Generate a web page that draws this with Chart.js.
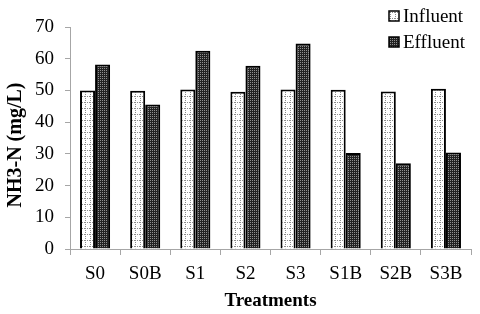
<!DOCTYPE html>
<html>
<head>
<meta charset="utf-8">
<script src="https://cdn.jsdelivr.net/npm/chart.js@4/dist/chart.umd.min.js"></script>
<style>
  html, body { margin: 0; padding: 0; background: #fff; }
  #wrap { width: 480px; height: 314px; }
</style>
</head>
<body>
<div id="wrap"><canvas id="nh3Chart" width="480" height="314"></canvas></div>
<script>
// values (mg/L)
const categories = ['S0', 'S0B', 'S1', 'S2', 'S3', 'S1B', 'S2B', 'S3B'];
const influent = [50.0, 49.9, 50.3, 49.6, 50.3, 50.2, 49.7, 50.5];
const effluent = [58.2, 45.6, 62.5, 57.8, 64.8, 30.3, 27.0, 30.4];
const seriesNames = ['Influent', 'Effluent'];
const yTitle = 'NH3-N (mg/L)';
const yMax = 70;
const yStep = 10;

const serif = "'Liberation Serif', 'Times New Roman', serif";

// small dotted textures like the original bars
function makePattern(kind) {
    const c = document.createElement('canvas');
    const ctx = c.getContext('2d');
    if (kind === 'light') {
        c.width = 5; c.height = 6;
        ctx.fillStyle = '#ffffff';
        ctx.fillRect(0, 0, 5, 6);
        ctx.fillStyle = '#8c8c8c';
        for (let y = 0; y < 6; y += 2) ctx.fillRect(0, y, 1, 1);
        for (let x = 0; x < 5; x += 2) ctx.fillRect(x, 0, 1, 1);
    } else {
        c.width = 2; c.height = 2;
        ctx.fillStyle = '#222222';
        ctx.fillRect(0, 0, 2, 2);
        ctx.fillStyle = '#909090';
        ctx.fillRect(0, 0, 1, 1);
    }
    return ctx.createPattern(c, 'repeat');
}

const fills = [makePattern('light'), makePattern('dark')];

// legend in the top right corner, over the plot, plus the y title
const extras = {
    id: 'extras',
    afterDraw(chart) {
        const ctx = chart.ctx;
        ctx.save();
        ctx.font = '19px ' + serif;
        ctx.textBaseline = 'middle';
        seriesNames.forEach((name, i) => {
            const y = 16 + i * 26;
            ctx.fillStyle = fills[i];
            ctx.fillRect(389, y - 5, 10, 10);
            ctx.lineWidth = 1.5;
            ctx.strokeStyle = '#000';
            ctx.strokeRect(389, y - 5, 10, 10);
            ctx.fillStyle = '#000';
            ctx.fillText(name, 403, y + 1);
        });

        // y axis title
        ctx.translate(15, 145);
        ctx.rotate(-Math.PI / 2);
        ctx.font = 'bold 20px ' + serif;
        ctx.textAlign = 'center';
        ctx.fillText(yTitle, 0, 1);
        ctx.restore();
    }
};

const ctx = document.getElementById('nh3Chart').getContext('2d');
new Chart(ctx, {
    type: 'bar',
    data: {
        labels: categories,
        datasets: [
            {
                label: seriesNames[0],
                data: influent,
                backgroundColor: fills[0],
                borderColor: '#000',
                borderWidth: 2,
                borderSkipped: 'bottom'
            },
            {
                label: seriesNames[1],
                data: effluent,
                backgroundColor: fills[1],
                borderColor: '#000',
                borderWidth: 2,
                borderSkipped: 'bottom'
            }
        ]
    },
    options: {
        responsive: false,
        animation: false,
        layout: { padding: { top: 27, right: 9, left: 0, bottom: 0 } },
        datasets: { bar: { categoryPercentage: 0.6, barPercentage: 1.0 } },
        plugins: {
            legend: { display: false },
            tooltip: { enabled: false }
        },
        scales: {
            x: {
                grid: {
                    offset: true,
                    drawOnChartArea: false,
                    drawTicks: true,
                    tickLength: 6,
                    color: '#a6a6a6'
                },
                border: { color: '#a6a6a6', width: 1 },
                ticks: {
                    color: '#000',
                    font: { family: serif, size: 19 },
                    padding: 8,
                    maxRotation: 0
                },
                title: {
                    display: true,
                    text: 'Treatments',
                    color: '#000',
                    font: { family: serif, size: 19, weight: 'bold' },
                    padding: { top: 2, bottom: 2 }
                },
                afterFit(scale) { scale.height = 65; }
            },
            y: {
                min: 0,
                max: yMax,
                grid: {
                    drawOnChartArea: false,
                    drawTicks: true,
                    tickLength: 5,
                    color: '#a6a6a6'
                },
                border: { color: '#a6a6a6', width: 1 },
                ticks: {
                    stepSize: yStep,
                    color: '#000',
                    font: { family: serif, size: 19 },
                    padding: 11
                },
                afterFit(scale) { scale.width = 70; }
            }
        }
    },
    plugins: [extras]
});
</script>
</body>
</html>
